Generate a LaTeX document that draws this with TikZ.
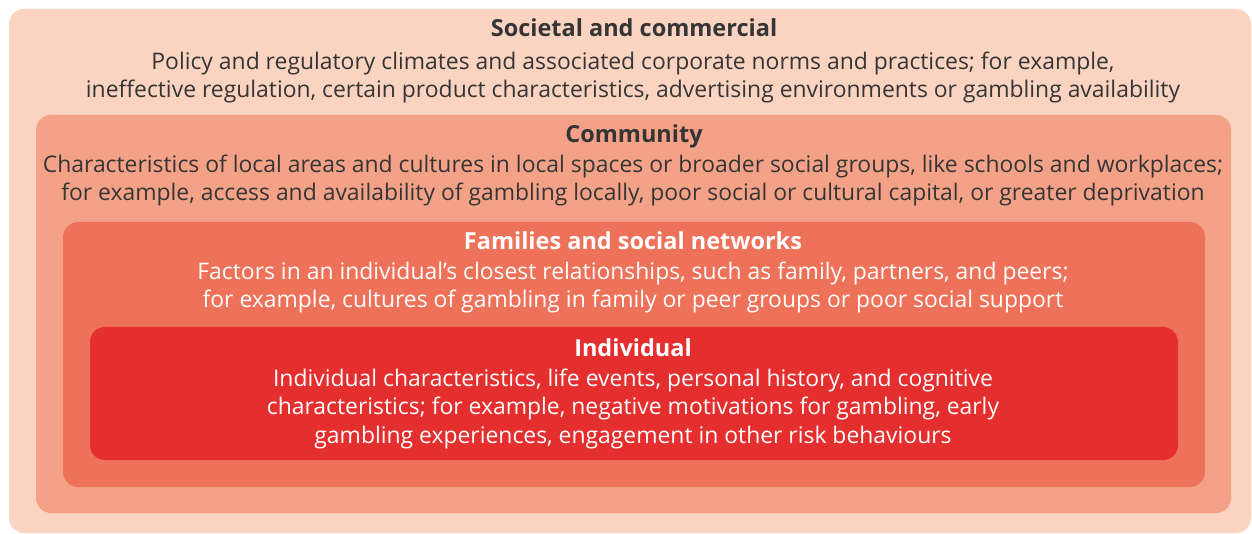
\documentclass[tikz,border=0pt]{standalone}
\usepackage{fontspec}
\setmainfont{Open Sans}
\definecolor{c1}{HTML}{FBD3C1}
\definecolor{c2}{HTML}{F4A287}
\definecolor{c3}{HTML}{EE7259}
\definecolor{c4}{HTML}{E52E2E}
\definecolor{dtext}{HTML}{353535}
\begin{document}
\begin{tikzpicture}[x=1pt,y=-1pt,
  layer/.style={rounded corners=15pt},
  ttl/.style={font=\fontsize{23.5}{27}\selectfont\bfseries, anchor=base, inner sep=0pt},
  body/.style={font=\fontsize{22.9}{28.5}\selectfont, align=center, anchor=base, inner sep=0pt},
]
\useasboundingbox (0,0) rectangle (1252,534);
\fill[white] (0,0) rectangle (1252,534);
\fill[c1,layer] (9,9) rectangle (1251,533);
\fill[c2,layer] (36,115) rectangle (1231,513);
\fill[c3,layer] (63,222) rectangle (1205,487);
\fill[c4,layer] (90,327) rectangle (1178,460);

\node[ttl,text=dtext] (t1) at (634,37) {Societal and commercial};
\node[body,text=dtext] (b1) at (633,98) {Policy and regulatory climates and associated corporate norms and practices; for example,\\ineffective regulation, certain product characteristics, advertising environments or gambling availability};

\node[ttl,text=dtext] (t2) at (634,143) {Community};
\node[body,text=dtext] (b2) at (633,201) {Characteristics of local areas and cultures in local spaces or broader social groups, like schools and workplaces;\\for example, access and availability of gambling locally, poor social or cultural capital, or greater deprivation};

\node[ttl,text=white] (t3) at (633,250) {Families and social networks};
\node[body,text=white] (b3) at (633,308) {Factors in an individual’s closest relationships, such as family, partners, and peers;\\for example, cultures of gambling in family or peer groups or poor social support};

\node[ttl,text=white] (t4) at (633,356) {Individual};
\node[body,text=white] (b4) at (633,443) {Individual characteristics, life events, personal history, and cognitive\\characteristics; for example, negative motivations for gambling, early\\gambling experiences, engagement in other risk behaviours};
\end{tikzpicture}
\end{document}
